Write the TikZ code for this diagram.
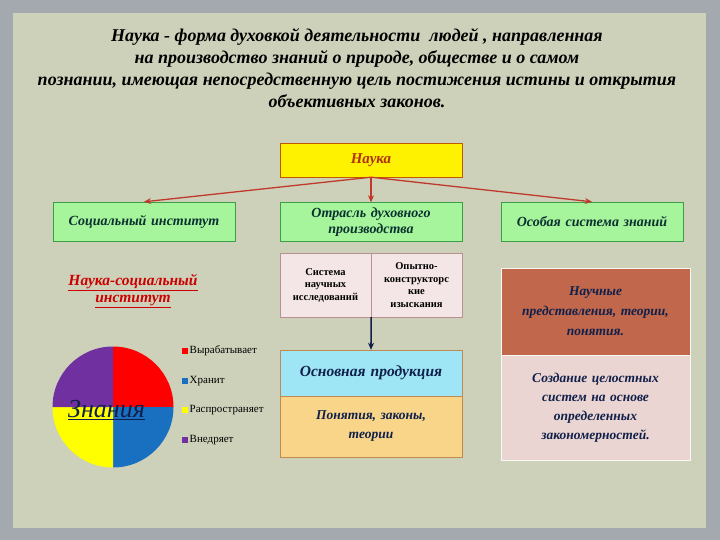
\documentclass[tikz,border=0pt]{standalone}
\usepackage{fontspec}
\setmainfont{Liberation Serif}
\usetikzlibrary{arrows.meta}
\definecolor{outerbg}{HTML}{A4A8AF}
\definecolor{panel}{HTML}{CDD1B9}
\definecolor{naukared}{HTML}{B0300F}
\definecolor{naukaborder}{HTML}{C05A00}
\definecolor{greenfill}{HTML}{A6F59C}
\definecolor{greenborder}{HTML}{3E9E48}
\definecolor{greentext}{HTML}{0B3030}
\definecolor{arrowred}{HTML}{C0392B}
\definecolor{tablepink}{HTML}{F4E6E6}
\definecolor{tableborder}{HTML}{B89090}
\definecolor{cyanfill}{HTML}{9EE5F5}
\definecolor{orangefill}{HTML}{F9D58A}
\definecolor{boxborder}{HTML}{C08A50}
\definecolor{brownfill}{HTML}{C0674C}
\definecolor{palepink}{HTML}{EBD5D2}
\definecolor{navytext}{HTML}{10204A}
\definecolor{piered}{HTML}{FF0000}
\definecolor{pieblue}{HTML}{1A70C0}
\definecolor{pieyellow}{HTML}{FFFF00}
\definecolor{piepurple}{HTML}{7030A0}
\tikzset{
  headbox/.style={draw=greenborder, fill=greenfill, text=greentext, minimum width=182pt, minimum height=39pt, text width=170pt, align=center, inner sep=0pt, font=\fontsize{14}{16}\selectfont\bfseries\itshape},
  cellbox/.style={draw=tableborder, fill=tablepink, minimum width=91pt, minimum height=64pt, text width=88pt, align=center, inner sep=0pt, font=\fontsize{10.5}{12.5}\selectfont\bfseries},
  prodbox/.style={draw=boxborder, minimum width=182pt, text width=176pt, align=center, inner sep=0pt, text=navytext, font=\bfseries\itshape},
  rightbox/.style={draw=white!85!panel, minimum width=189pt, text width=185pt, align=center, inner sep=0pt, text=navytext, font=\bfseries\itshape},
  redarrow/.style={draw=arrowred, line width=1.3pt, -{Stealth[length=7pt,width=6pt]}},
  legendtext/.style={anchor=west, inner sep=0pt, text=black, font=\fontsize{11}{12}\selectfont}
}
\begin{document}
\begin{tikzpicture}[x=1pt,y=-1pt]
% background
\fill[outerbg] (0,0) rectangle (720,540);
\useasboundingbox (0,0) rectangle (720,540);
\fill[panel] (13,13) rectangle (706,528);
% title
\node[align=center, inner sep=0pt, font=\fontsize{18}{22}\selectfont\bfseries\itshape] (title) at (357,68)
  {Наука - форма духовкой деятельности\ \ людей , направленная\\
   на производство знаний о природе, обществе и о самом\\
   познании, имеющая непосредственную цель постижения истины и открытия\\
   объективных законов.};
% top box
\node[draw=naukaborder, fill=yellow, text=naukared, minimum width=182pt, minimum height=34pt, inner sep=0pt,
  font=\fontsize{15}{18}\selectfont\bfseries\itshape] (nauka) at (371,160) {Наука};
% three branches
\node[headbox] (social) at (144,221.5) {Социальный институт};
\node[headbox] (branch) at (371,222) {Отрасль духовного производства};
\node[headbox] (special) at (592,221.5) {Особая система знаний};
\draw[redarrow] (nauka.south) -- (social.north);
\draw[redarrow] (nauka.south) -- (branch.north);
\draw[redarrow] (nauka.south) -- (special.north);
% table under branch
\node[cellbox] (research) at (325.5,285) {Система\\научных\\исследований};
\node[cellbox] (design) at (416.5,285) {Опытно-\\конструкторс\\кие\\изыскания};
% products
\node[prodbox, fill=cyanfill, minimum height=46pt, font=\fontsize{15.5}{18}\selectfont\bfseries\itshape] (product) at (371,373) {Основная продукция};
\node[prodbox, fill=orangefill, minimum height=61pt, font=\fontsize{13.5}{19}\selectfont\bfseries\itshape] (concepts) at (371,426.5) {Понятия, законы,\\теории};
\draw[navytext, line width=1.6pt, -{Stealth[length=7pt,width=6pt]}] (research.south east) -- (product.north);
% right column
\node[rightbox, fill=brownfill, minimum height=87pt, font=\fontsize{13.5}{20}\selectfont\bfseries\itshape] (ideas) at (595.5,311.5) {Научные\\представления, теории,\\понятия.};
\node[rightbox, fill=palepink, minimum height=105pt, font=\fontsize{13.5}{19}\selectfont\bfseries\itshape] (systems) at (595.5,407.5) {Создание целостных\\систем на основе\\определенных\\закономерностей.};
% social institute heading
\node[align=center, inner sep=0pt, text=red!80!black, font=\fontsize{15.5}{17}\selectfont\bfseries\itshape] (sciinst) at (133,291)
  {\underline{Наука-социальный}\\\underline{институт}};
% pie chart
\coordinate (piec) at (113,407);
\fill[piered] (piec) -- ++(60.5,0) arc[start angle=0, end angle=-90, radius=60.5] -- cycle;
\fill[pieblue] (piec) -- ++(60.5,0) arc[start angle=0, end angle=90, radius=60.5] -- cycle;
\fill[pieyellow] (piec) -- ++(0,60.5) arc[start angle=90, end angle=180, radius=60.5] -- cycle;
\fill[piepurple] (piec) -- ++(-60.5,0) arc[start angle=180, end angle=270, radius=60.5] -- cycle;
\node[anchor=base west, inner sep=0pt, text=navytext, font=\fontsize{26}{28}\selectfont\itshape] (knowledge) at (68,417) {\underline{Знания}};
% legend
\foreach \y/\c/\t in {351/piered/Вырабатывает, 381/pieblue/Хранит, 410/pieyellow/Распространяет, 440/piepurple/Внедряет}
  \fill[\c] (182,\y-3) rectangle (188,\y+3) node[legendtext] at (189.5,\y) {\t};
\end{tikzpicture}
\end{document}
